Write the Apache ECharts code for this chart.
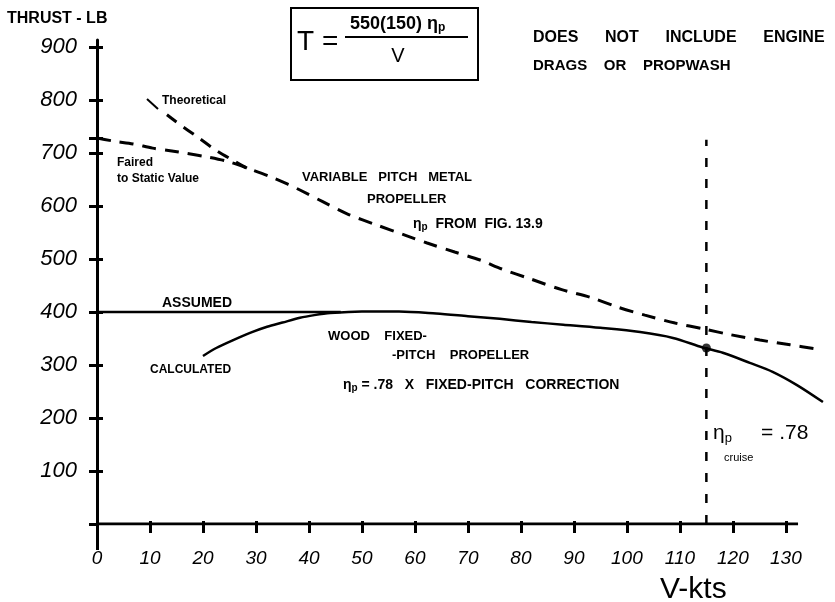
<!DOCTYPE html>
<html>
<head>
<meta charset="utf-8">
<script src="https://cdn.jsdelivr.net/npm/echarts@6/dist/echarts.min.js"></script>
<style>
  html, body { margin: 0; padding: 0; background: #fff; }
  #chart { width: 835px; height: 602px; }
</style>
</head>
<body>
<div id="chart"></div>
<script>
// ---- data ----
const xTickValues = [0, 10, 20, 30, 40, 50, 60, 70, 80, 90, 100, 110, 120, 130];
const yTickValues = [0, 100, 200, 300, 400, 500, 600, 700, 800, 900];
const xAxisEnd = 132.3;   // where the drawn x-axis line stops
const staticThrust = 728; // faired static value marked on the thrust axis

// Theoretical curve (dashed, short piece at low speed)
const theoreticalX = [13.2, 15.7, 18.7, 22.3, 25.5, 28.9];
const theoreticalY = [772, 753, 732, 706, 687, 668];

// Variable pitch metal propeller (dashed, faired to static value at V = 0)
const variablePitchX = [0, 3.3, 6.8, 10.5, 13.8, 17, 21, 25, 29, 32.5, 36, 38.3, 42.6, 47.2, 52.8, 58.1, 62.3, 67.5, 72.3, 76.4, 81.9, 87.7, 93, 98.3, 103.4, 109.1, 114.5, 119.6, 125.1, 130.8, 136];
const variablePitchY = [728, 722, 717, 709, 704, 699, 692, 683, 669, 656, 641, 630, 608, 585, 564, 545, 530, 513, 498, 481, 462, 442, 428, 409, 394, 379, 368, 357, 347, 338, 330];

// Wood fixed-pitch propeller, calculated (solid)
const woodX = [20, 22.5, 25.7, 29, 32.1, 35, 38.3, 41, 44, 50, 57, 64, 70, 76, 82, 88, 95, 102.5, 108.7, 114.3, 118.1, 123.2, 127.5, 132.1, 137];
const woodY = [317, 332, 347, 361, 372, 380, 389, 394, 398, 401, 401, 397, 392, 387, 381, 376, 370, 362, 351, 333, 323, 304, 287, 262, 230];

// Assumed static thrust line (solid)
const assumedX = [0, 46];
const assumedY = [400, 400];

// Cruise marker
const cruiseX = 115;
const cruiseLineY = [0, 725];
const cruisePointY = 332;

// ---- helpers ----
const pairs = (xs, ys) => xs.map((x, i) => [x, ys[i]]);
const HAND = '"Liberation Sans", "DejaVu Sans", sans-serif';
const BLACK = '#000';

const chart = echarts.init(document.getElementById('chart'), null, { renderer: 'canvas' });

const xMin = 0, xMax = 137.2, yMin = 0, yMax = 913;

const baseX = { type: 'value', min: xMin, max: xMax, position: 'bottom', gridIndex: 0, splitLine: { show: false } };
const baseY = { type: 'value', min: yMin, max: yMax, position: 'left', gridIndex: 0, splitLine: { show: false } };

function txt(text, x, y, size, opts) {
  opts = opts || {};
  return {
    type: 'text', x: x, y: y, silent: true,
    style: {
      text: text,
      fontSize: size,
      fontFamily: opts.family || HAND,
      fontWeight: opts.weight || 'bold',
      fontStyle: opts.style || 'normal',
      fill: BLACK,
      align: opts.align || 'left',
      verticalAlign: 'middle',
      textAlign: opts.align || 'left',
      textVerticalAlign: 'middle',
      rich: opts.rich
    }
  };
}

const yTickMarks = yTickValues.concat([staticThrust]);

const option = {
  backgroundColor: '#fff',
  animation: false,
  grid: { left: 97, right: 11, top: 40, bottom: 78, containLabel: false },
  xAxis: [
    Object.assign({}, baseX, {
      axisLine: { show: false, onZero: false },
      axisTick: { show: true, customValues: xTickValues.slice(1), length: 9, inside: false, lineStyle: { color: BLACK, width: 3 } },
      axisLabel: { show: true, customValues: xTickValues, margin: 25, color: BLACK, fontSize: 19, fontStyle: 'italic', fontFamily: HAND }
    }),
    Object.assign({}, baseX, {
      axisLine: { show: false, onZero: false },
      axisTick: { show: true, customValues: xTickValues.slice(1), length: 3, inside: true, lineStyle: { color: BLACK, width: 3 } },
      axisLabel: { show: false }
    }),
    Object.assign({}, baseX, {
      axisLine: { show: false, onZero: false },
      axisTick: { show: true, customValues: [0], length: 26, inside: false, lineStyle: { color: BLACK, width: 3 } },
      axisLabel: { show: false }
    })
  ],
  yAxis: [
    Object.assign({}, baseY, {
      axisLine: { show: true, onZero: false, lineStyle: { color: BLACK, width: 3 } },
      axisTick: { show: true, customValues: yTickMarks, length: 8, inside: false, lineStyle: { color: BLACK, width: 3 } },
      axisLabel: { show: true, customValues: yTickValues.slice(1), margin: 20, color: BLACK, fontSize: 22, fontStyle: 'italic', fontFamily: HAND }
    }),
    Object.assign({}, baseY, {
      axisLine: { show: false, onZero: false },
      axisTick: { show: true, customValues: yTickMarks.slice(1), length: 6, inside: true, lineStyle: { color: BLACK, width: 3 } },
      axisLabel: { show: false }
    })
  ],
  series: [
    {
      name: 'x axis line', type: 'line', xAxisIndex: 0, yAxisIndex: 0,
      data: [[xMin, 0], [xAxisEnd, 0]], showSymbol: false, silent: true,
      lineStyle: { color: BLACK, width: 3 }
    },
    {
      name: 'Theoretical', type: 'line', xAxisIndex: 0, yAxisIndex: 0,
      data: pairs(theoreticalX, theoreticalY), smooth: 0.3, showSymbol: false,
      lineStyle: { color: BLACK, width: 3, type: [12, 9] }
    },
    {
      name: 'Variable pitch metal propeller', type: 'line', xAxisIndex: 0, yAxisIndex: 0,
      data: pairs(variablePitchX, variablePitchY), smooth: 0.3, showSymbol: false,
      lineStyle: { color: BLACK, width: 3, type: [14, 9] }
    },
    {
      name: 'Assumed', type: 'line', xAxisIndex: 0, yAxisIndex: 0,
      data: pairs(assumedX, assumedY), showSymbol: false,
      lineStyle: { color: BLACK, width: 2.5 }
    },
    {
      name: 'Wood fixed-pitch propeller', type: 'line', xAxisIndex: 0, yAxisIndex: 0,
      data: pairs(woodX, woodY), smooth: 0.3, showSymbol: false,
      lineStyle: { color: BLACK, width: 2.5 }
    },
    {
      name: 'Cruise', type: 'line', xAxisIndex: 0, yAxisIndex: 0,
      data: cruiseLineY.map(v => [cruiseX, v]), showSymbol: false,
      lineStyle: { color: BLACK, width: 2.5, type: [9, 12] }
    },
    {
      name: 'Cruise point', type: 'scatter', xAxisIndex: 0, yAxisIndex: 0,
      data: [[cruiseX, cruisePointY]], symbol: 'circle', symbolSize: 9,
      itemStyle: { color: BLACK }
    }
  ],
  graphic: [
    txt('THRUST - LB', 7, 19, 16),
    // formula box
    { type: 'rect', silent: true, shape: { x: 291, y: 8, width: 187, height: 72 },
      style: { fill: 'none', stroke: BLACK, lineWidth: 2 } },
    txt('T =', 297, 42, 28, { weight: 'normal' }),
    txt('{a|550(150) η}{s|p}', 350, 24, 18, { weight: 'normal', rich: {
      a: { fontSize: 18, fontFamily: HAND, fill: BLACK, fontWeight: 'bold' },
      s: { fontSize: 12, fontFamily: HAND, fill: BLACK, fontWeight: 'bold', padding: [8, 0, 0, 0] }
    } }),
    { type: 'line', silent: true, shape: { x1: 345, y1: 37, x2: 468, y2: 37 }, style: { stroke: BLACK, lineWidth: 2 } },
    txt('V', 398, 56, 20, { weight: 'normal', align: 'center' }),
    txt('DOES      NOT      INCLUDE      ENGINE', 533, 38, 16),
    txt('DRAGS    OR    PROPWASH', 533, 66, 15),
    // annotations
    { type: 'line', silent: true, shape: { x1: 147, y1: 99, x2: 158, y2: 109 }, style: { stroke: BLACK, lineWidth: 2 } },
    txt('Theoretical', 162, 101, 12),
    txt('Faired', 117, 163, 12),
    txt('to Static Value', 117, 179, 12),
    txt('VARIABLE   PITCH   METAL', 302, 177, 13),
    txt('PROPELLER', 367, 199, 13),
    txt('{a|η}{s|p}{a|  FROM  FIG. 13.9}', 413, 224, 14, { rich: {
      a: { fontSize: 14, fontFamily: HAND, fill: BLACK, fontWeight: 'bold' },
      s: { fontSize: 10, fontFamily: HAND, fill: BLACK, fontWeight: 'bold', padding: [7, 0, 0, 0] }
    } }),
    txt('ASSUMED', 162, 303, 14),
    txt('WOOD    FIXED-', 328, 336, 13),
    txt('-PITCH    PROPELLER', 392, 355, 13),
    txt('CALCULATED', 150, 370, 12),
    txt('{a|η}{s|p}{a| = .78   X   FIXED-PITCH   CORRECTION}', 343, 385, 14, { rich: {
      a: { fontSize: 14, fontFamily: HAND, fill: BLACK, fontWeight: 'bold' },
      s: { fontSize: 10, fontFamily: HAND, fill: BLACK, fontWeight: 'bold', padding: [7, 0, 0, 0] }
    } }),
    txt('{a|η}{s|p}{a|     = .78}', 713, 433, 21, { weight: 'normal', rich: {
      a: { fontSize: 21, fontFamily: HAND, fill: BLACK },
      s: { fontSize: 13, fontFamily: HAND, fill: BLACK, padding: [10, 0, 0, 0] }
    } }),
    txt('cruise', 724, 458, 11, { weight: 'normal' }),
    txt('V-kts', 660, 590, 30, { weight: 'normal' })
  ]
};

chart.setOption(option);
</script>
</body>
</html>
